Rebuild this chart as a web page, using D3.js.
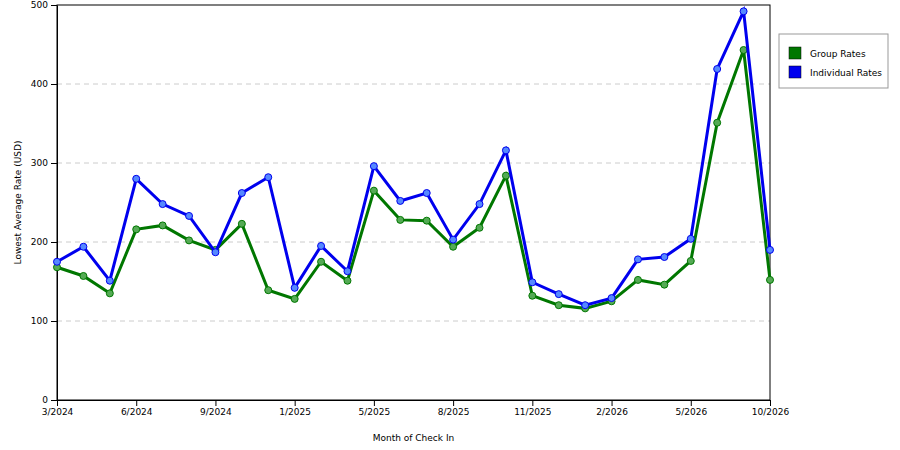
<!DOCTYPE html>
<html><head><meta charset="utf-8">
<script src="https://cdn.jsdelivr.net/npm/d3@7"></script>
<style>body{margin:0;background:#fff}</style>
</head><body><div id="chart"></div>
<script>
const months = ["3/2024","4/2024","5/2024","6/2024","7/2024","8/2024","9/2024","10/2024","11/2024","1/2025","2/2025","4/2025","5/2025","6/2025","7/2025","8/2025","9/2025","10/2025","11/2025","12/2025","1/2026","2/2026","3/2026","4/2026","5/2026","7/2026","8/2026","10/2026"]
const groupRates = [168,157,135,216,221,202,190,223,139,128,175,151,265,228,227,194,218,284,132,120,116,125,152,146,176,351,443,152]
const individualRates = [175,194,151,280,248,233,187,262,282,142,195,163,296,252,262,203,248,316,149,134,120,129,178,181,204,419,492,190]
const yTicks = [0,100,200,300,400,500]
const tickEvery = 3

const margin = {top: 5, right: 130, bottom: 50, left: 57}
const width = 900, height = 450

const x = d3.scalePoint().domain(months).range([margin.left, width - margin.right])
const y = d3.scaleLinear().domain([0, 500]).range([height - margin.bottom, margin.top])

const svg = d3.select("#chart").append("svg")
   .attr("width", width).attr("height", height)
   .attr("font-family", "DejaVu Sans, sans-serif")

// grid
svg.append("g").selectAll("line")
   .data(yTicks.filter(d => d > 0 && d < 500))
   .join("line")
   .attr("x1", margin.left).attr("x2", width - margin.right)
   .attr("y1", d => y(d)).attr("y2", d => y(d))
   .attr("stroke", "#ccc").attr("stroke-dasharray", "5,4")

// frame
svg.append("rect")
   .attr("x", margin.left).attr("y", margin.top)
   .attr("width", width - margin.right - margin.left)
   .attr("height", height - margin.bottom - margin.top)
   .attr("fill", "none").attr("stroke", "#000")

svg.append("g")
   .attr("transform", `translate(0,${height - margin.bottom})`)
   .call(d3.axisBottom(x).tickValues(months.filter((d, i) => i % tickEvery === 0)).tickSizeOuter(0))
   .call(g => g.selectAll("text").attr("font-size", 9).attr("font-family", "DejaVu Sans, sans-serif"))

svg.append("g")
   .attr("transform", `translate(${margin.left},0)`)
   .call(d3.axisLeft(y).tickValues(yTicks).tickSizeOuter(0))
   .call(g => g.selectAll("text").attr("font-size", 9).attr("font-family", "DejaVu Sans, sans-serif"))

svg.append("text").attr("x", (margin.left + width - margin.right) / 2).attr("y", 441)
   .attr("text-anchor", "middle").attr("font-size", 9).text("Month of Check In")
svg.append("text").attr("transform", `translate(21,${(margin.top + height - margin.bottom) / 2}) rotate(-90)`)
   .attr("text-anchor", "middle").attr("font-size", 9).text("Lowest Average Rate (USD)")

const series = [
   {name: "Group Rates", values: groupRates, color: "#007700", light: "#55aa55"},
   {name: "Individual Rates", values: individualRates, color: "#0000ee", light: "#5588ff"}
]
const line = d3.line().x((d, i) => x(months[i])).y(d => y(d))

series.forEach(s => {
   svg.append("path").datum(s.values)
      .attr("fill", "none").attr("stroke", s.color).attr("stroke-width", 3)
      .attr("d", line)
   svg.append("g").selectAll("circle").data(s.values).join("circle")
      .attr("cx", (d, i) => x(months[i])).attr("cy", d => y(d)).attr("r", 3.5)
      .attr("fill", s.light).attr("stroke", s.color).attr("stroke-width", 1)
})

// legend
const lg = svg.append("g").attr("transform", "translate(779,34)")
lg.append("rect").attr("width", 109).attr("height", 54).attr("fill", "#fff").attr("stroke", "#999")
series.forEach((s, i) => {
   lg.append("rect").attr("x", 10).attr("y", 13 + i * 19).attr("width", 12).attr("height", 12)
      .attr("fill", s.color).attr("stroke", "#000").attr("stroke-width", 0.5)
   lg.append("text").attr("x", 31).attr("y", 23 + i * 19).attr("font-size", 9).text(s.name)
})
</script></body></html>
